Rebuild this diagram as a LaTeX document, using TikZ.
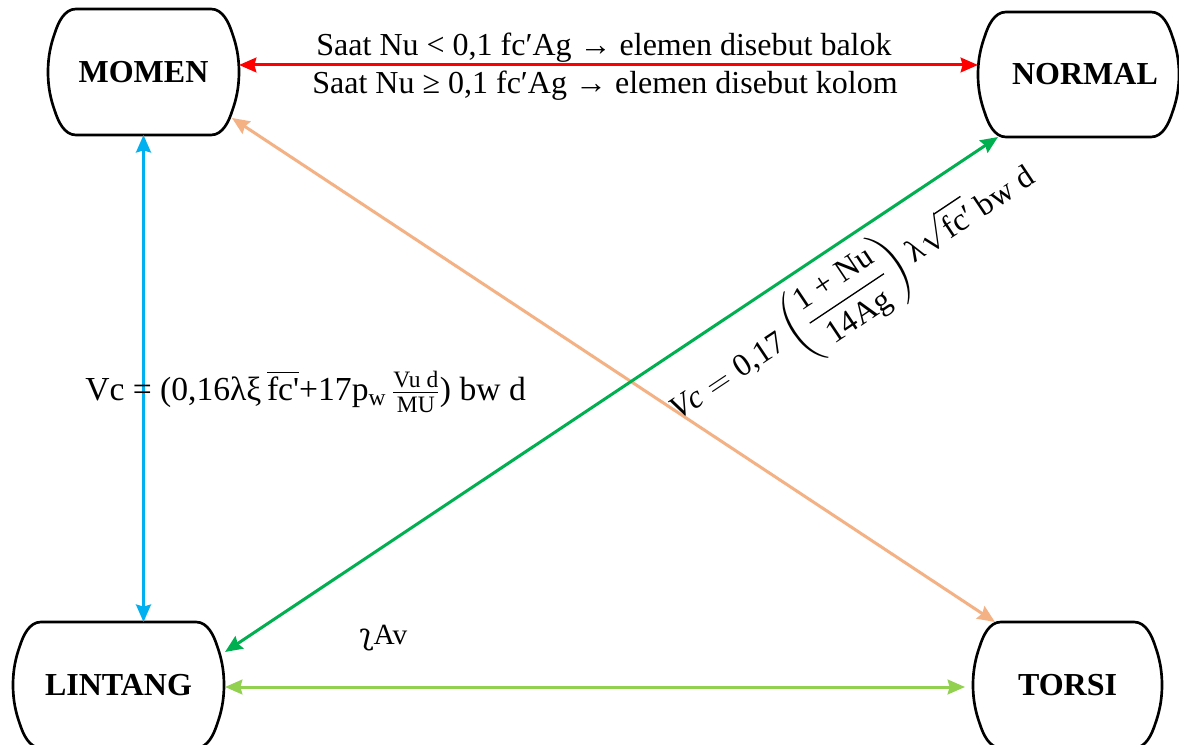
\documentclass[tikz,border=0pt]{standalone}
\usepackage{amsmath}
\usepackage{fontspec}
\setmainfont{Liberation Serif}
\newfontfamily\dvs{DejaVu Serif}
\usetikzlibrary{arrows.meta,calc}
\definecolor{cred}{HTML}{FF0000}
\definecolor{cblue}{HTML}{00B0F0}
\definecolor{corange}{HTML}{F4B183}
\definecolor{cgreen}{HTML}{00B050}
\definecolor{clgreen}{HTML}{92D050}
\newcommand\termshape[1]{%
  \draw[boxline]
    ($(#1.north east)+(-28,0)$)
    .. controls ($(#1.north east)+(-16,0)$) and ($(#1.north east)+(-10,14)$) .. ($(#1.north east)+(-6.5,25)$)
    .. controls ($(#1.north east)+(-3,35)$) and ($(#1.east)+(0,-16)$) .. (#1.east)
    .. controls ($(#1.east)+(0,16)$) and ($(#1.south east)+(-3,-35)$) .. ($(#1.south east)+(-6.5,-25)$)
    .. controls ($(#1.south east)+(-10,-14)$) and ($(#1.south east)+(-16,0)$) .. ($(#1.south east)+(-28,0)$)
    -- ($(#1.south west)+(28,0)$)
    .. controls ($(#1.south west)+(16,0)$) and ($(#1.south west)+(10,-14)$) .. ($(#1.south west)+(6.5,-25)$)
    .. controls ($(#1.south west)+(3,-35)$) and ($(#1.west)+(0,16)$) .. (#1.west)
    .. controls ($(#1.west)+(0,-16)$) and ($(#1.north west)+(3,35)$) .. ($(#1.north west)+(6.5,25)$)
    .. controls ($(#1.north west)+(10,14)$) and ($(#1.north west)+(16,0)$) .. ($(#1.north west)+(28,0)$)
    -- cycle;}
\begin{document}
\begin{tikzpicture}[x=0.75pt,y=-0.75pt,
  boxline/.style={line width=2pt,black},
  termbox/.style={rectangle,draw=none,inner sep=0pt,outer sep=0pt,
    font=\fontsize{24}{28}\selectfont\bfseries},
  twoway/.style={line width=2.25pt,
    {Stealth[length=13pt,width=11pt,inset=1.5pt]}-{Stealth[length=13pt,width=11pt,inset=1.5pt]}},
  lab/.style={inner sep=0pt,font=\fontsize{24}{28}\selectfont}]
\useasboundingbox (0,0) rectangle (1179,745);
\fill[white] (0,0) rectangle (1179,745);
% nodes
\node[termbox,minimum width=143.25pt,minimum height=94.5pt] (momen) at (143.5,72) {MOMEN};
\node[termbox,minimum width=150.75pt,minimum height=93.75pt] (normal) at (1078.5,74.5) {\hspace{9.75pt}NORMAL};
\node[termbox,minimum width=158.25pt,minimum height=94.5pt] (lintang) at (118.5,685) {LINTANG};
\node[termbox,minimum width=141.75pt,minimum height=94.5pt] (torsi) at (1067.5,685) {TORSI};
\termshape{momen}
\termshape{normal}
\termshape{lintang}
\termshape{torsi}
% connectors
\draw[twoway,cred] ($(momen.east)+(0,-7)$) -- ($(normal.west)+(0,-9.5)$);
\draw[twoway,cblue,line width=2.6pt] (momen.south) -- (momen.south |- lintang.north);
\draw[twoway,corange] ($(momen.center)+(88.5,46)$) -- ($(torsi.north west)+(22,0)$);
\draw[twoway,cgreen] ($(normal.south west)+(20,0)$) -- ($(lintang.east)+(1,-33)$);
\draw[twoway,clgreen] ($(lintang.east)+(1,2)$) -- ($(torsi.west)+(-8,2)$);
% labels
\node[lab,anchor=base] (t1) at (604,56) {Saat Nu < 0,1 fc′Ag → elemen disebut balok};
\node[lab,anchor=base] (t2) at (605,94) {Saat Nu ≥ 0,1 fc′Ag → elemen disebut kolom};
\node[lab,anchor=base west,font=\fontsize{25.2}{30}\selectfont] (vcl) at (85,401)
  {Vc = (0,16λξ\,$\overline{\text{fc\textquotesingle}}$+17p\textsubscript{w}\,$\frac{\text{Vu d}}{\text{MU}}$) bw d};
\node[lab,anchor=base west,rotate=33.7,font=\fontsize{24}{28}\selectfont] (vcr) at (678,421)
  {$\displaystyle \textit{Vc} = \text{0,17}\left(\frac{\text{1 + Nu}}{\text{14Ag}}\right)\text{λ}\sqrt{\text{fc′}}\ \text{bw d}$};
\node[lab,anchor=base west,font=\fontsize{22}{26}\selectfont] (av) at (359,644) {{\dvs ʅ}Av};
\end{tikzpicture}
\end{document}
